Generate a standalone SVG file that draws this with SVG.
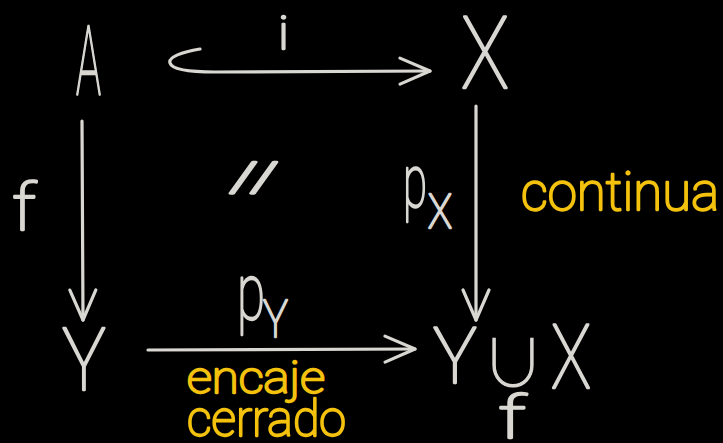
<svg xmlns="http://www.w3.org/2000/svg" width="723" height="443" viewBox="0 0 723 443">
<style>
.w{font-family:Roboto,"Liberation Sans",sans-serif;font-weight:100;fill:#d9d7d2;stroke:#d9d7d2;stroke-width:2.3;stroke-linejoin:round}
.y{font-family:Roboto,"Liberation Sans",sans-serif;font-weight:100;fill:#f4c20d;stroke:#f4c20d;stroke-width:2.3;stroke-linejoin:round}
.u{font-family:"Noto Sans CJK JP","DejaVu Sans",sans-serif;font-weight:100;fill:#d9d7d2;stroke:#d9d7d2;stroke-width:1.2}
.c{fill:none;stroke:#d9d7d2;stroke-width:3.2;stroke-linecap:round;stroke-linejoin:round}
</style>
<defs>
<marker id="ah" markerUnits="userSpaceOnUse" viewBox="-34 -18 38 36" refX="0" refY="0" markerWidth="38" markerHeight="36" orient="auto" overflow="visible">
<path d="M-30,-13 L0,0 L-30,13" fill="none" stroke="#d9d7d2" stroke-width="3.2" stroke-linecap="round" stroke-linejoin="round"/>
</marker>
</defs>
<rect width="723" height="443" fill="#000"/>
<g id="connectors">
<path id="e-i" class="c" d="M200,49 C182,52 168,57 170,63 C172,70 190,72 215,72 L430,71" marker-end="url(#ah)"/>
<path id="e-f" class="c" d="M82,121 L83,320" marker-end="url(#ah)"/>
<path id="e-px" class="c" d="M476,106 L476,320" marker-end="url(#ah)"/>
<path id="e-py" class="c" d="M148,350 L415,349" marker-end="url(#ah)"/>
</g>
<g id="node-A"><text class="w" x="76" y="95" font-size="96" textLength="25" lengthAdjust="spacingAndGlyphs">A</text></g>
<g id="node-X"><text class="w" x="461" y="88" font-size="100" textLength="48" lengthAdjust="spacingAndGlyphs">X</text></g>
<g id="node-Y"><text class="w" x="62" y="390" font-size="87" textLength="44" lengthAdjust="spacingAndGlyphs">Y</text></g>
<g id="node-YuX">
<text class="w" x="433" y="383" font-size="77" textLength="44" lengthAdjust="spacingAndGlyphs">Y</text>
<text class="u" x="482" y="386" font-size="64" textLength="62" lengthAdjust="spacingAndGlyphs">∪</text>
<text class="w" x="551" y="388" font-size="89" textLength="40" lengthAdjust="spacingAndGlyphs">X</text>
<text class="w" x="498" y="438" font-size="60" textLength="28" lengthAdjust="spacingAndGlyphs">f</text>
</g>
<g id="labels">
<text class="w" x="278" y="49" font-size="46" textLength="11" lengthAdjust="spacingAndGlyphs">i</text>
<text class="w" x="12" y="230" font-size="64" textLength="24" lengthAdjust="spacingAndGlyphs">f</text>
<text class="w" x="229" y="191" font-size="40" textLength="50" lengthAdjust="spacingAndGlyphs">//</text>
<text class="w" x="403" y="207" font-size="74" textLength="24" lengthAdjust="spacingAndGlyphs">p</text>
<text class="w" x="428" y="228" font-size="48" textLength="24" lengthAdjust="spacingAndGlyphs">X</text>
<text class="w" x="237" y="319" font-size="78" textLength="28" lengthAdjust="spacingAndGlyphs">p</text>
<text class="w" x="263" y="337" font-size="52" textLength="25" lengthAdjust="spacingAndGlyphs">Y</text>
<text class="y" x="521" y="210" font-size="53" textLength="198" lengthAdjust="spacingAndGlyphs">continua</text>
<text class="y" x="187" y="393" font-size="44" textLength="138" lengthAdjust="spacingAndGlyphs">encaje</text>
<text class="y" x="187" y="436" font-size="50" textLength="159" lengthAdjust="spacingAndGlyphs">cerrado</text>
</g>
</svg>
